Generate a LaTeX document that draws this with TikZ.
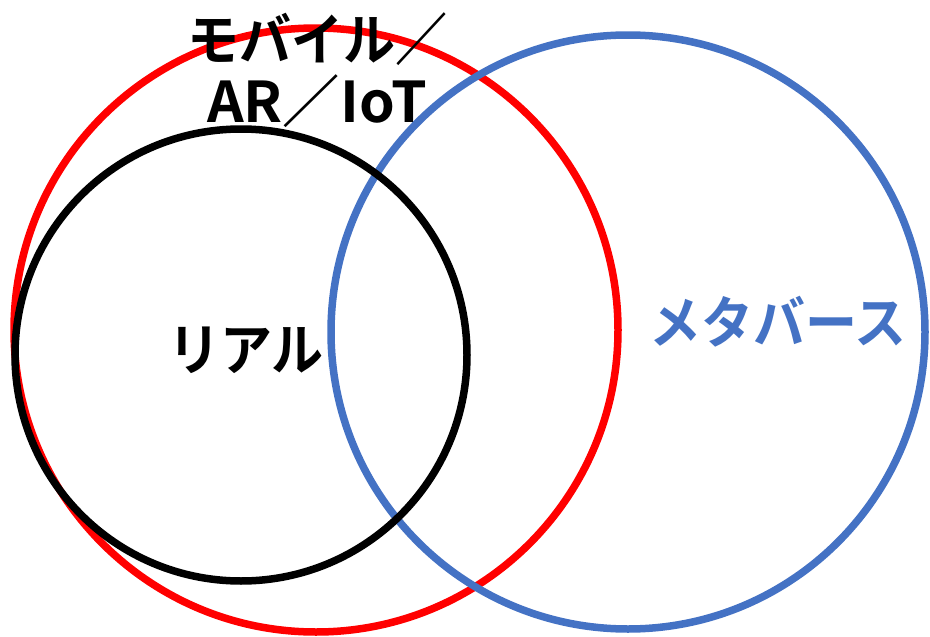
\documentclass[tikz,border=0pt]{standalone}
\usepackage{fontspec}
\setmainfont{Noto Sans CJK JP}[BoldFont={* Bold}]
\definecolor{ringred}{HTML}{FF0000}
\definecolor{ringblue}{HTML}{4472C4}
\begin{document}
\begin{tikzpicture}[x=1pt,y=-1pt,
  ring/.style={line width=7.5pt},
  lbl/.style={font=\fontsize{52}{60}\selectfont\bfseries, inner sep=0pt}]
\useasboundingbox (0,0) rectangle (930,637);
\draw[ring, ringred] (316,330) circle[radius=302];
\draw[ring, ringblue] (628,332) circle[radius=297];
\draw[ring, black] (241,355) circle[radius=226];
\node[lbl] (mobile) at (317,39) {\scalebox{1}[1.08]{モバイル／}};
\node[lbl] (ar) at (317,101) {\scalebox{1.1}[1.08]{AR／IoT}};
\node[lbl] (real) at (246,350) {\scalebox{1}[1.08]{リアル}};
\node[lbl, text=ringblue] (meta) at (778,322) {\scalebox{1}[1.08]{メタバース}};
\end{tikzpicture}
\end{document}
